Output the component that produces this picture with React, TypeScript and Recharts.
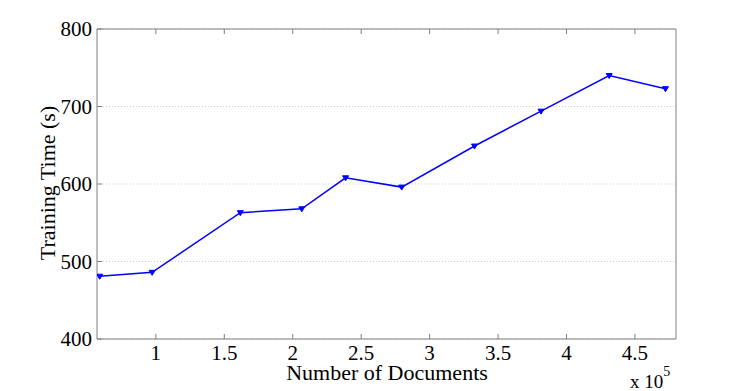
import { LineChart, Line, XAxis, YAxis, CartesianGrid } from "recharts";

// number of documents (x 10^5) and training time in seconds
const docs = [0.59, 0.973, 1.617, 2.066, 2.386, 2.796, 3.328, 3.814, 4.312, 4.723];
const seconds = [481, 486, 563, 568, 608, 596, 649, 694, 740, 723];
const xTicks = [1, 1.5, 2, 2.5, 3, 3.5, 4, 4.5];
const yTicks = [400, 500, 600, 700, 800];

const data = docs.map((d, i) => ({ docs: d, time: seconds[i] }));

const FONT = "Liberation Serif";
const AXIS = "#7f7f7f";
const BLUE = "#0000ff";
const txt = { fontFamily: FONT, fill: "#000" };

const BottomTick = ({ x, y, payload }: any) => (
  <g>
    <line x1={x} y1={y} x2={x} y2={y - 5} stroke={AXIS} />
    <text x={x} y={y + 21} textAnchor="middle" fontSize={21} style={txt}>
      {String(payload.value)}
    </text>
  </g>
);

const TopTick = ({ x, y }: any) => <line x1={x} y1={y} x2={x} y2={y + 5} stroke={AXIS} />;

const LeftTick = ({ x, y, payload }: any) => (
  <g>
    <line x1={x} y1={y} x2={x + 5} y2={y} stroke={AXIS} />
    <text x={x - 5} y={y + 7} textAnchor="end" fontSize={21} style={txt}>
      {String(payload.value)}
    </text>
  </g>
);

const RightTick = ({ x, y }: any) => <line x1={x} y1={y} x2={x - 5} y2={y} stroke={AXIS} />;

const TriangleDot = ({ cx, cy }: any) => {
  if (cx == null || cy == null) return null;
  return (
    <polygon
      points={`${cx - 3},${cy - 2} ${cx + 3},${cy - 2} ${cx},${cy + 3}`}
      fill={BLUE}
      stroke={BLUE}
      strokeWidth={1}
    />
  );
};

export default function App() {
  return (
    <div style={{ position: "absolute", left: 0, top: 0, fontFamily: FONT }}>
      <LineChart width={747} height={391} data={data} margin={{ top: 28, right: 70, bottom: 0, left: 0 }}>
        <CartesianGrid vertical={false} stroke="#cccccc" strokeDasharray="1 2" />
        <XAxis
          dataKey="docs"
          type="number"
          domain={[0.57, 4.8]}
          ticks={xTicks}
          allowDataOverflow
          height={52}
          stroke={AXIS}
          tickSize={0}
          tickMargin={0}
          tickLine={false}
          tick={<BottomTick />}
          interval={0}
        />
        <XAxis
          xAxisId="top"
          dataKey="docs"
          type="number"
          orientation="top"
          domain={[0.57, 4.8]}
          ticks={xTicks}
          allowDataOverflow
          height={1}
          stroke={AXIS}
          tickSize={0}
          tickMargin={0}
          tickLine={false}
          tick={<TopTick />}
          interval={0}
        />
        <YAxis
          type="number"
          domain={[400, 800]}
          ticks={yTicks}
          width={97}
          stroke={AXIS}
          tickSize={0}
          tickMargin={0}
          tickLine={false}
          tick={<LeftTick />}
          interval={0}
        />
        <YAxis
          yAxisId="right"
          orientation="right"
          type="number"
          domain={[400, 800]}
          ticks={yTicks}
          width={1}
          stroke={AXIS}
          tickSize={0}
          tickMargin={0}
          tickLine={false}
          tick={<RightTick />}
          interval={0}
        />
        <Line
          dataKey="time"
          stroke={BLUE}
          strokeWidth={1.5}
          dot={<TriangleDot />}
          activeDot={false}
          isAnimationActive={false}
        />
        <text x={387} y={380} textAnchor="middle" fontSize={22} style={txt}>
          Number of Documents
        </text>
        <text transform="translate(55, 183) rotate(-90)" textAnchor="middle" fontSize={22} style={txt}>
          Training Time (s)
        </text>
        <text x={630} y={388} fontSize={19} style={txt}>
          x 10
          <tspan dy={-12} fontSize={14}>5</tspan>
        </text>
      </LineChart>
    </div>
  );
}
